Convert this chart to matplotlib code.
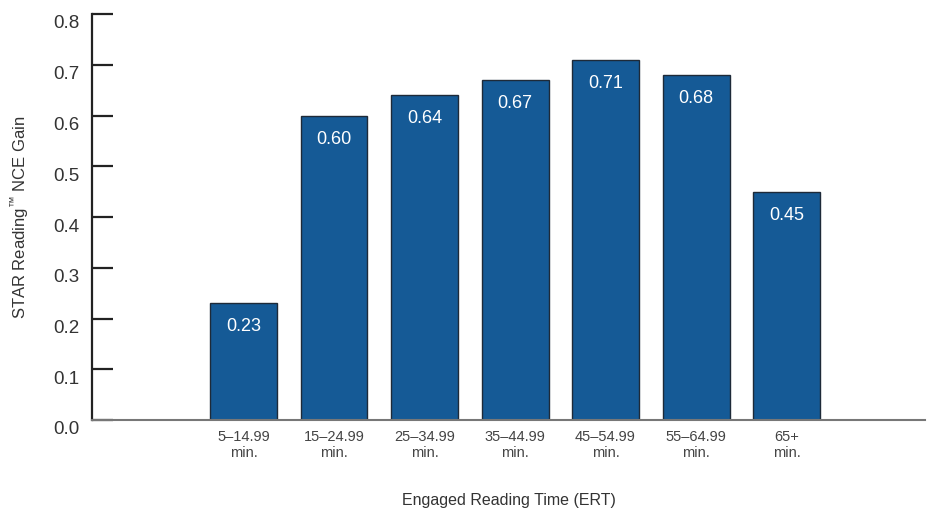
import matplotlib
matplotlib.use('Agg')
import matplotlib.pyplot as plt
import matplotlib.transforms as mtransforms

plt.rcParams['font.family'] = ['Liberation Sans', 'DejaVu Sans']
plt.rcParams['mathtext.fontset'] = 'custom'
plt.rcParams['mathtext.rm'] = 'Liberation Sans'

# data
categories = ['5\u201314.99\nmin.', '15\u201324.99\nmin.', '25\u201334.99\nmin.',
              '35\u201344.99\nmin.', '45\u201354.99\nmin.', '55\u201364.99\nmin.',
              '65+\nmin.']
gains = [0.23, 0.60, 0.64, 0.67, 0.71, 0.68, 0.45]
yticks = [0.0, 0.1, 0.2, 0.3, 0.4, 0.5, 0.6, 0.7, 0.8]

fig = plt.figure(figsize=(9.31, 5.12), dpi=100)
ax = fig.add_axes([92 / 931, 1 - 420 / 512, (925 - 92) / 931, (420 - 14) / 512])

x = list(range(len(gains)))
ax.bar(x, gains, width=0.74, color='#155a96', edgecolor='#1e2a38', linewidth=1.0, zorder=2)

for xi, g in zip(x, gains):
    ax.annotate('%.2f' % g, (xi, g), xytext=(0, -17), textcoords='offset points',
                ha='center', va='center', color='white', fontsize=13)

ax.set_xlim(-1.674, 7.53)
ax.set_ylim(0, 0.8)
ax.set_yticks(yticks)
ax.set_yticklabels(['%.1f' % t for t in yticks])
ax.set_xticks(x)
ax.set_xticklabels(categories, fontsize=10.5, color='#444444', linespacing=1.2)

ax.tick_params(axis='y', direction='in', length=15, width=1.6, color='#222222',
               labelsize=13.5, labelcolor='#333333', pad=9)
ax.tick_params(axis='x', length=0, pad=7)

# y tick labels sit a little below their ticks in the original
shift = mtransforms.ScaledTranslation(0, -8 / 100, fig.dpi_scale_trans)
for lab in ax.get_yticklabels():
    lab.set_transform(lab.get_transform() + shift)

for s in ['top', 'right']:
    ax.spines[s].set_visible(False)
ax.spines['left'].set_color('#222222')
ax.spines['left'].set_linewidth(1.6)
ax.spines['bottom'].set_color('#777777')
ax.spines['bottom'].set_linewidth(1.5)

ax.set_xlabel('Engaged Reading Time (ERT)', fontsize=11.5, color='#333333', labelpad=24)
ax.set_ylabel('STAR Reading$^{\\mathrm{\u2122}}$ NCE Gain', fontsize=12, color='#333333', labelpad=16)

fig.savefig('out.png', dpi=100)
